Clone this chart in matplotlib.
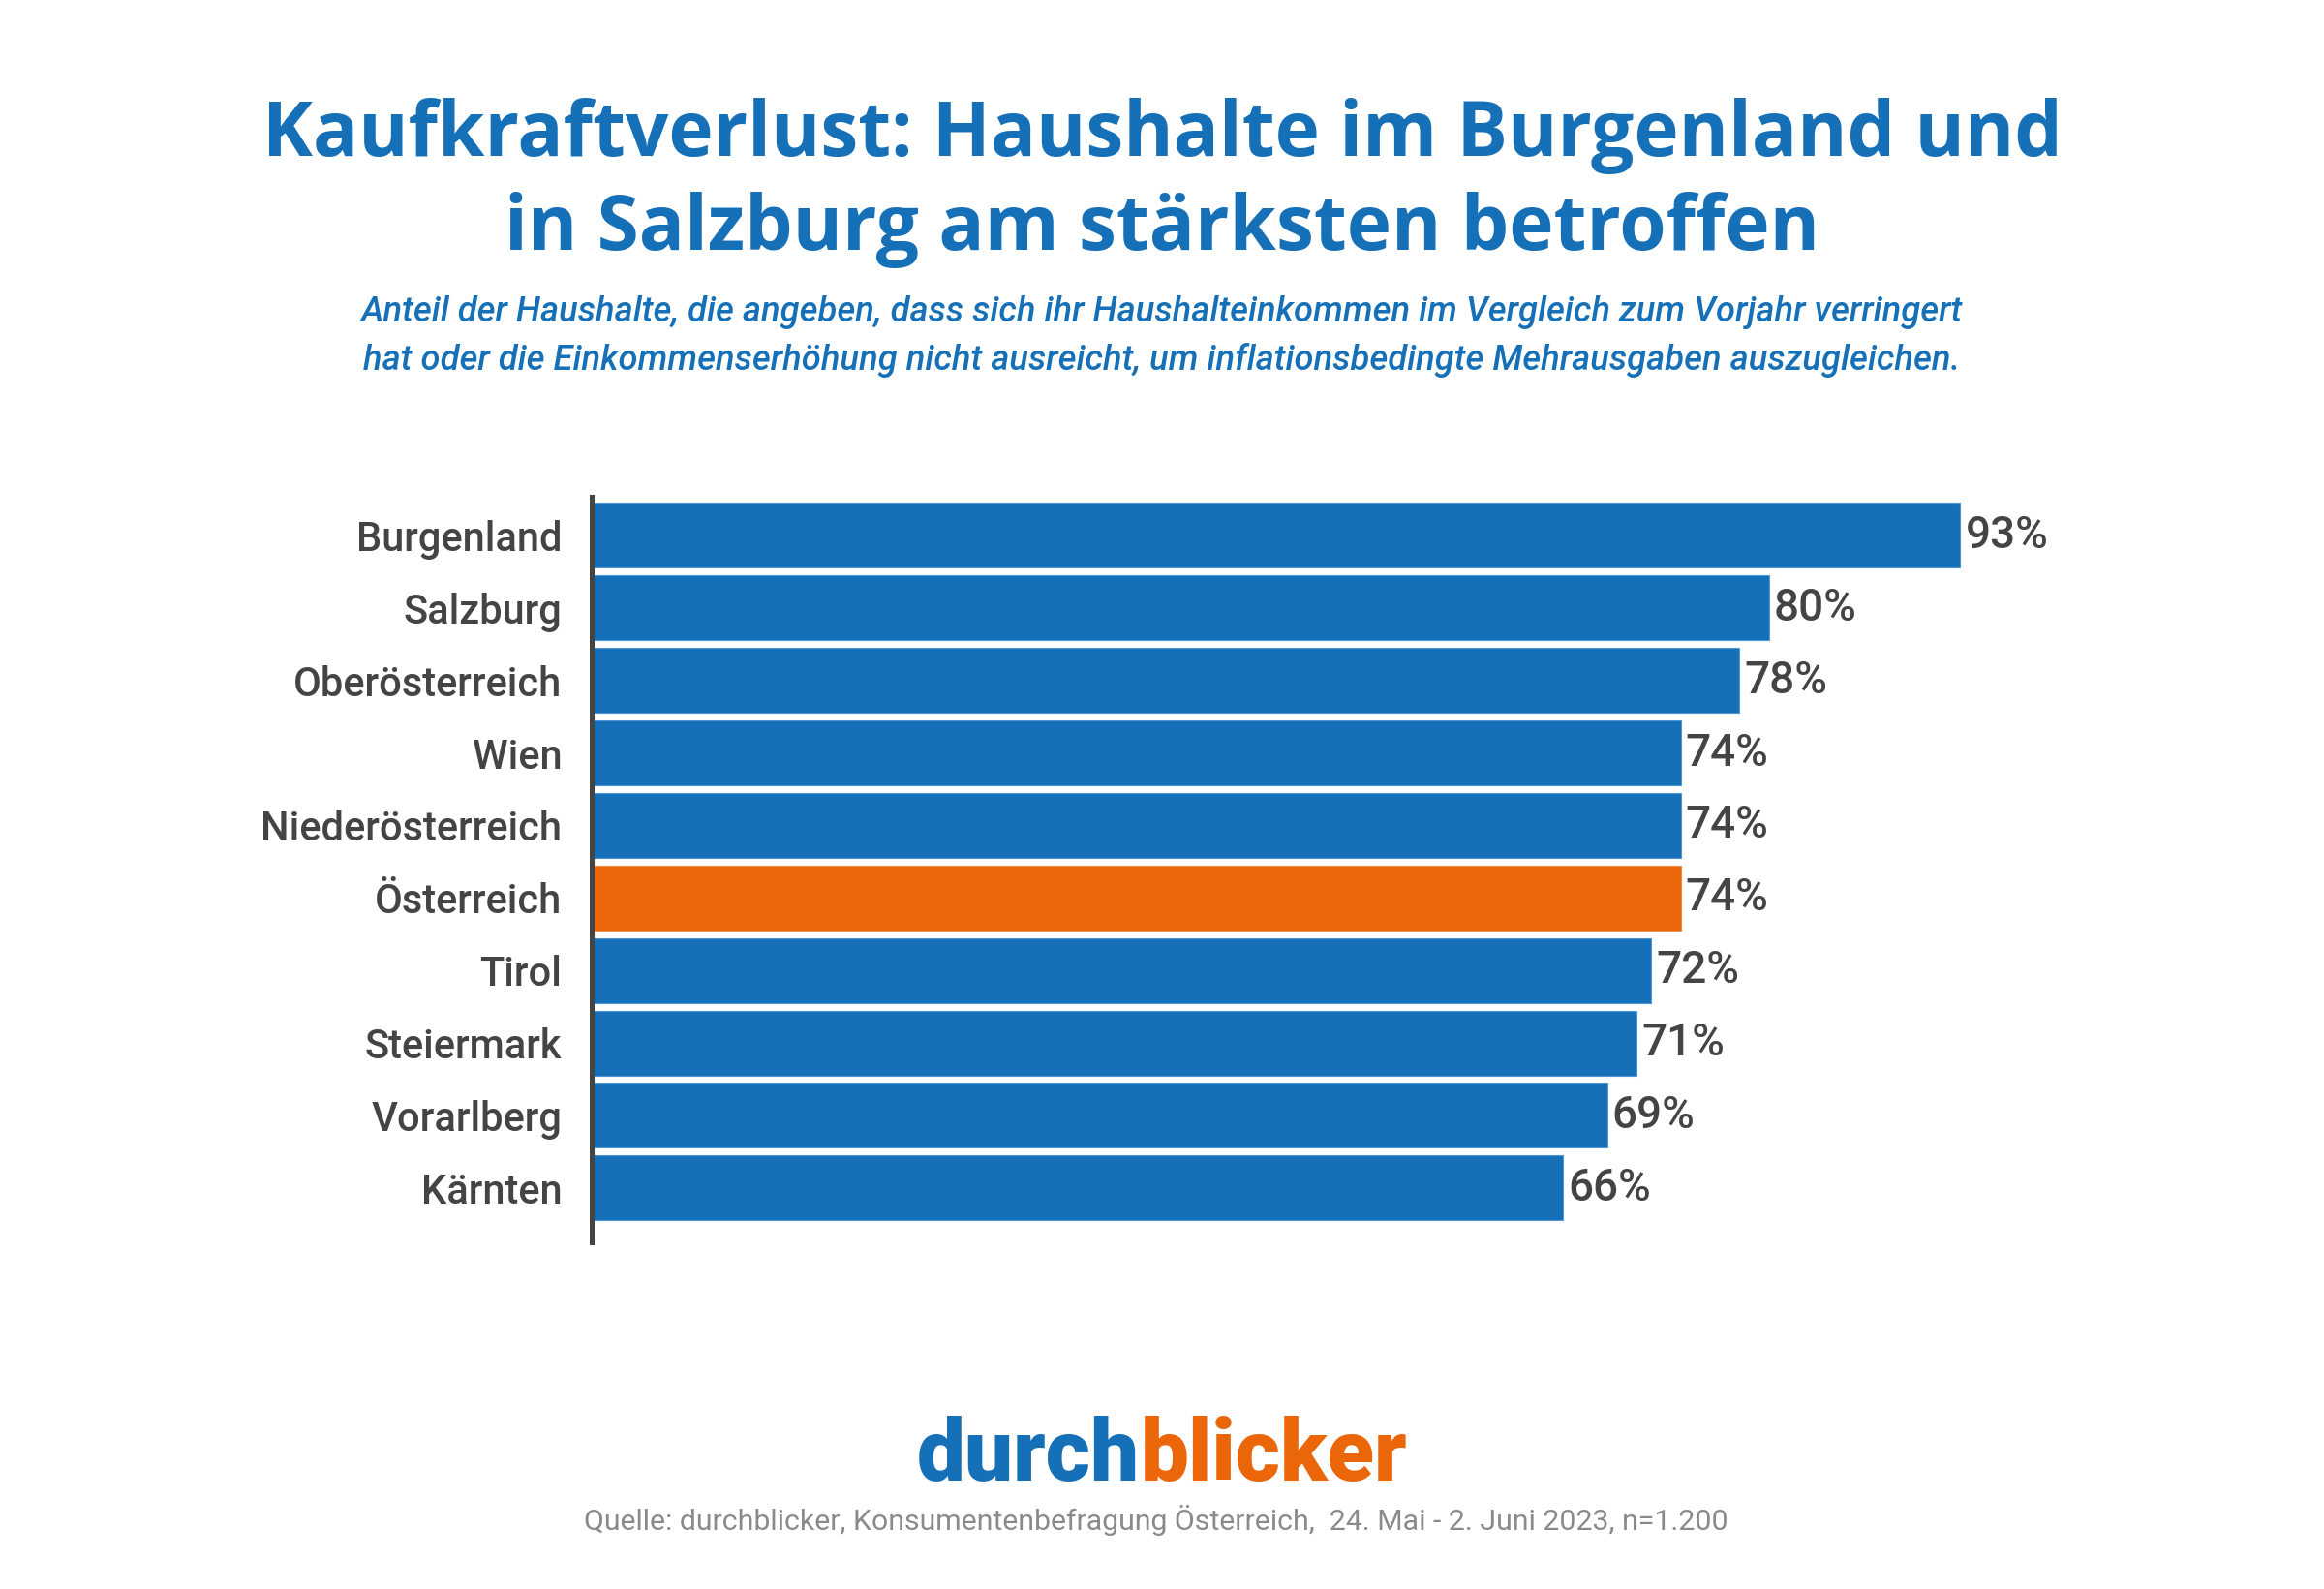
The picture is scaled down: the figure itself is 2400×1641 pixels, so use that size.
import matplotlib
matplotlib.use('Agg')
import matplotlib.pyplot as plt
from matplotlib.offsetbox import TextArea, HPacker, AnnotationBbox

regions = ['Burgenland', 'Salzburg', 'Oberösterreich', 'Wien', 'Niederösterreich',
           'Österreich', 'Tirol', 'Steiermark', 'Vorarlberg', 'Kärnten']
shares = [93, 80, 78, 74, 74, 74, 72, 71, 69, 66]
highlight = 'Österreich'

title = 'Kaufkraftverlust: Haushalte im Burgenland und\nin Salzburg am stärksten betroffen'
subtitle = ('Anteil der Haushalte, die angeben, dass sich ihr Haushalteinkommen im Vergleich zum Vorjahr verringert\n'
            'hat oder die Einkommenserhöhung nicht ausreicht, um inflationsbedingte Mehrausgaben auszugleichen.')
source = 'Quelle: durchblicker, Konsumentenbefragung Österreich,  24. Mai - 2. Juni 2023, n=1.200'

blue = '#1670b7'
orange = '#eb6608'
dark = '#444444'

plt.rcParams['font.family'] = ['Roboto', 'DejaVu Sans']

fig = plt.figure(figsize=(12, 8.205), dpi=200)
ax = fig.add_axes([0.2545, 0.2182, 0.6333, 0.4692])

colors = [orange if r == highlight else blue for r in regions]
pos = list(range(len(regions)))
bars = ax.barh(pos, shares, height=0.895, color=colors,
               edgecolor='#4d97d6', linewidth=0.4)
for b, c in zip(bars, colors):
    if c == orange:
        b.set_edgecolor('#f08a44')

# value labels right of each bar
for p, v in zip(pos, shares):
    ax.text(v + 0.35, p, f'{v}%', va='center', ha='left', fontsize=16.5,
            fontweight='medium', color=dark)

ax.set_xlim(0, 100)
ax.set_ylim(9.75, -0.534)
ax.set_yticks(pos)
ax.set_yticklabels(regions, fontsize=15, fontweight='medium', color=dark)
ax.tick_params(axis='y', length=0, pad=11)
ax.set_xticks([])
for s in ['top', 'right', 'bottom']:
    ax.spines[s].set_visible(False)
ax.spines['left'].set_linewidth(1.8)
ax.spines['left'].set_color(dark)

fig.text(0.5, 0.885, title, ha='center', va='center', fontsize=28.2,
         fontweight='bold', color=blue, family=['Open Sans', 'DejaVu Sans'],
         linespacing=1.3)
fig.text(0.5, 0.788, subtitle, ha='center', va='center', fontsize=13.1,
         style='italic', fontweight='medium', color=blue, linespacing=1.5)

# logo: two-coloured word
t1 = TextArea('durch', textprops=dict(color=blue, fontsize=32, fontweight='black'))
t2 = TextArea('blicker', textprops=dict(color=orange, fontsize=32, fontweight='black'))
logo = HPacker(children=[t1, t2], pad=0, sep=0)
ab = AnnotationBbox(logo, (0.5, 0.083), xycoords='figure fraction',
                    frameon=False, box_alignment=(0.5, 0.5))
fig.add_artist(ab)

fig.text(0.4975, 0.043, source, ha='center', va='center', fontsize=10.9, color='#8a8a8a')

fig.savefig('out.png', dpi=200, facecolor='white')
